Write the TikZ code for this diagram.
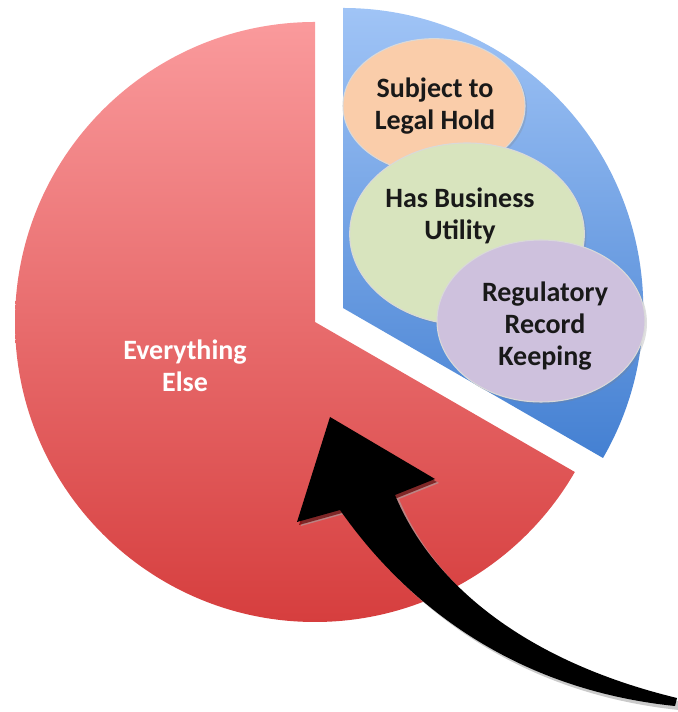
\documentclass[tikz,border=0pt]{standalone}
\usepackage{fontspec}
\setmainfont{Carlito}
\usetikzlibrary{shapes.geometric,shadows}
\definecolor{redtop}{RGB}{250,154,156}
\definecolor{redmid}{RGB}{240,128,128}
\definecolor{redbot}{RGB}{214,62,62}
\definecolor{bluetop}{RGB}{160,196,246}
\definecolor{bluebot}{RGB}{68,128,210}
\definecolor{peach}{RGB}{250,205,170}
\definecolor{lgreen}{RGB}{216,228,190}
\definecolor{lpurple}{RGB}{206,193,221}
\begin{document}
\begin{tikzpicture}[x=0.75pt,y=0.75pt,
  bubble/.style={ellipse, inner sep=0pt, draw=white!70!gray, line width=0.8pt,
    drop shadow={opacity=0.25, shadow xshift=1.5pt, shadow yshift=-1.5pt}},
  lbl/.style={font=\bfseries\fontsize{21}{24}\selectfont, align=center, text=black!90},
  arrowshape/.style={fill=black}]
\useasboundingbox (0,0) rectangle (677,712);
% red slice
\shade[top color=redtop, middle color=redmid, bottom color=redbot]
  (315,390) -- (315,690) arc[start angle=90, end angle=330, radius=225pt] -- cycle;
% blue slice (exploded)
\shade[top color=bluetop, bottom color=bluebot]
  (343,404) -- (603,254) arc[start angle=-30, end angle=90, radius=225pt] -- cycle;
% bubbles
\node[bubble, fill=peach, minimum width=136.5pt, minimum height=101pt] (legal) at (434,606) {};
\node[lbl] (legalt) at (435,606) {Subject to\\Legal Hold};
\node[bubble, fill=lgreen, minimum width=176pt, minimum height=136.5pt] (business) at (467,478) {};
\node[lbl] (businesst) at (460,496) {Has Business\\Utility};
\node[bubble, fill=lpurple, minimum width=156pt, minimum height=121.5pt] (regul) at (541,391) {};
\node[lbl] (regult) at (545,386) {Regulatory\\Record\\Keeping};
\node[lbl, text=white] (else) at (185,346) {Everything\\Else};
% arrow shadow
\fill[gray!70, opacity=0.6, shift={(4,-4)}]
  (330,295) -- (435,233) -- (395,217)
  .. controls (430,132) and (520,52) .. (677,14)
  -- (675,6)
  .. controls (520,22) and (410,102) .. (340,202)
  -- (297,190) -- cycle;
\fill[red!40!black, opacity=0.7, shift={(2,-3)}]
  (330,295) -- (435,233) -- (395,217) -- (340,202) -- (297,190) -- cycle;
% arrow
\fill[arrowshape]
  (330,295) -- (435,233) -- (395,217)
  .. controls (430,132) and (520,52) .. (677,14)
  -- (675,6)
  .. controls (520,22) and (410,102) .. (340,202)
  -- (297,190) -- cycle;
\end{tikzpicture}
\end{document}
